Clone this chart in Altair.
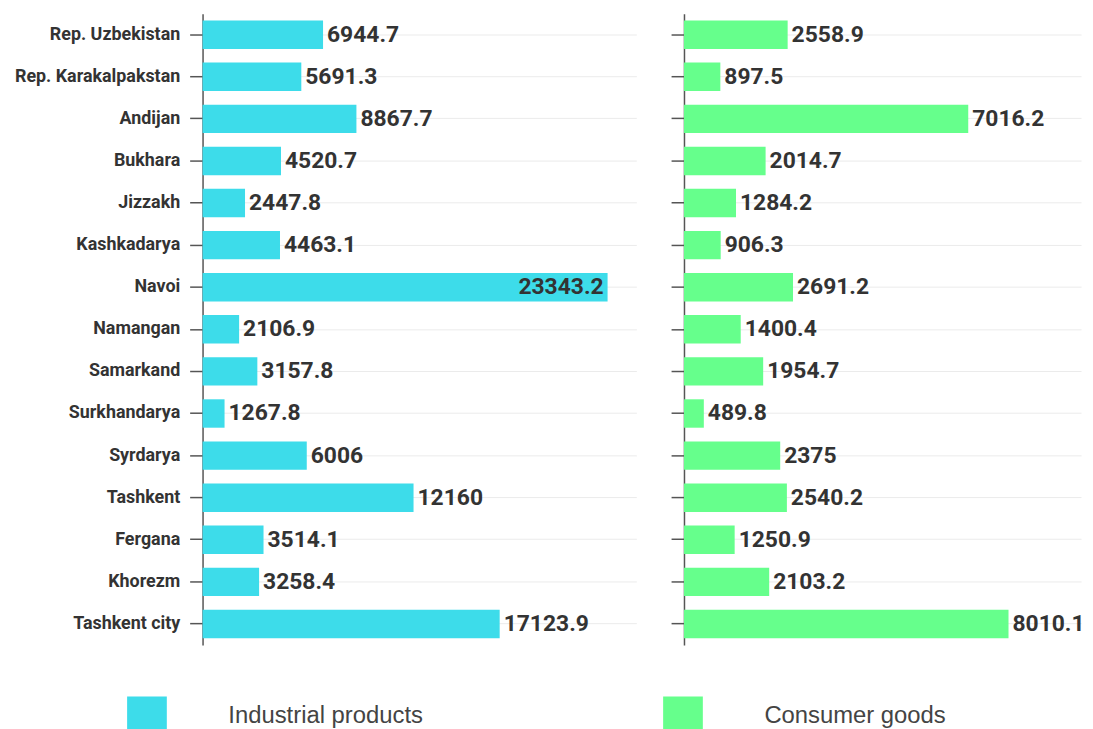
import altair as alt
import pandas as pd

regions = ["Rep. Uzbekistan", "Rep. Karakalpakstan", "Andijan", "Bukhara", "Jizzakh",
           "Kashkadarya", "Navoi", "Namangan", "Samarkand", "Surkhandarya", "Syrdarya",
           "Tashkent", "Fergana", "Khorezm", "Tashkent city"]
industrial = [6944.7, 5691.3, 8867.7, 4520.7, 2447.8, 4463.1, 23343.2, 2106.9, 3157.8,
              1267.8, 6006, 12160, 3514.1, 3258.4, 17123.9]
consumer = [2558.9, 897.5, 7016.2, 2014.7, 1284.2, 906.3, 2691.2, 1400.4, 1954.7,
            489.8, 2375, 2540.2, 1250.9, 2103.2, 8010.1]
series_names = ["Industrial products", "Consumer goods"]
series_colors = ["#3ddcea", "#66ff8c"]

rows = []
for r, v in zip(regions, industrial):
    rows.append({"region": r, "series": series_names[0], "value": v})
for r, v in zip(regions, consumer):
    rows.append({"region": r, "series": series_names[1], "value": v})
df = pd.DataFrame(rows)

color = alt.Color(
    "series:N",
    scale=alt.Scale(domain=series_names, range=series_colors),
    legend=alt.Legend(
        title=None, orient="none", legendX=-76, legendY=688, direction="horizontal",
        symbolType="square", symbolSize=1600, symbolStrokeWidth=0, symbolOpacity=1,
        labelFont="Liberation Sans", labelFontSize=24, labelColor="#444",
        labelOffset=62, labelLimit=500, columnPadding=241, columns=2,
    ),
)


def panel(series, dmax, width, show_labels, threshold):
    base = alt.Chart(df).transform_filter(alt.datum.series == series)
    common = dict(title=None, bandPosition=0.5, grid=True, gridColor="#ebebeb",
                  tickSize=13, tickColor="#555", tickWidth=1.5,
                  domainColor="#555", domainWidth=1.5)
    if show_labels:
        axis = alt.Axis(labelPadding=10, labelFont="Roboto", labelFontWeight="bold",
                        labelFontSize=18, labelColor="#333",
                        minExtent=189, maxExtent=189, **common)
    else:
        axis = alt.Axis(labels=False, minExtent=13, maxExtent=13, **common)
    y = alt.Y("region:N", sort=regions,
              scale=alt.Scale(paddingInner=0.325, paddingOuter=0.1625), axis=axis)
    x = alt.X("value:Q", scale=alt.Scale(domain=[0, dmax], nice=False), axis=None)
    bars = base.mark_bar().encode(x=x, y=y, color=color)
    txt = alt.Text("value:Q", format="~r")
    out = base.transform_filter(alt.datum.value < threshold).mark_text(
        align="left", baseline="middle", dx=4, font="Roboto", fontWeight="bold",
        fontSize=23, color="#333").encode(x=x, y=y, text=txt)
    inside = base.transform_filter(alt.datum.value >= threshold).mark_text(
        align="right", baseline="middle", dx=-4, font="Roboto", fontWeight="bold",
        fontSize=23, color="#333").encode(x=x, y=y, text=txt)
    return alt.layer(bars, out, inside).properties(width=width, height=636)


left = panel(series_names[0], 25000, 437, True, 20000)
right = panel(series_names[1], 9800, 400, False, 1e9)

chart = alt.hconcat(left, right, spacing=34).properties(
    padding={"left": 6, "top": 3, "right": 0, "bottom": 0}
).configure_view(stroke=None)

chart.save("out.html", embed_options={"renderer": "svg", "actions": False})
